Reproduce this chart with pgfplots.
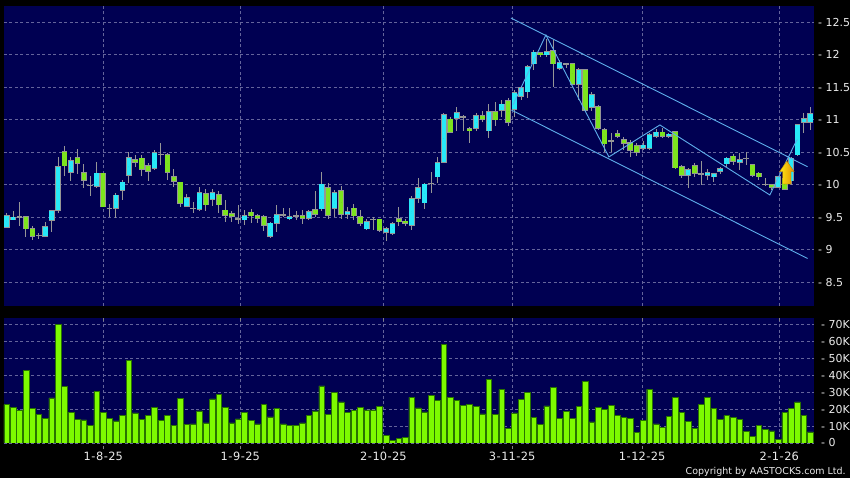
\documentclass[border=0pt]{standalone}
\usepackage{pgfplots}
\pgfplotsset{compat=1.18}
\usepackage{pgfplotstable}
\usepackage{fontspec}
\setmainfont{DejaVu Sans}

\definecolor{panel}{RGB}{0,0,82}
\definecolor{gridc}{RGB}{100,100,155}
\definecolor{upc}{RGB}{40,232,248}
\definecolor{dnc}{RGB}{125,228,30}
\definecolor{wick}{RGB}{150,150,150}
\definecolor{volf}{RGB}{125,250,0}
\definecolor{vold}{RGB}{40,115,0}
\definecolor{trend}{RGB}{95,175,235}
\definecolor{lab}{RGB}{235,235,235}
\definecolor{arrY}{RGB}{255,235,20}
\definecolor{arrO}{RGB}{225,140,0}

\newcommand{\dl}[3]{#1\kern.5pt-\kern.5pt#2\kern.5pt-\kern.5pt#3}

% daily candles, i = trading-day index
\pgfplotstableread{
i o h l c
0 9.34 9.57 9.33 9.53
1 9.46 9.59 9.45 9.50
2 9.51 9.74 9.36 9.51
3 9.51 9.51 9.19 9.32
4 9.32 9.36 9.15 9.20
5 9.22 9.25 9.16 9.22
6 9.21 9.43 9.20 9.35
7 9.45 9.61 9.28 9.60
8 9.60 10.43 9.56 10.28
9 10.51 10.59 10.14 10.29
10 10.19 10.43 10.06 10.37
11 10.42 10.55 10.17 10.33
12 10.19 10.32 9.95 10.07
13 9.99 10.13 9.83 9.99
14 9.98 10.35 9.95 10.18
15 10.18 10.18 9.65 9.66
16 9.64 9.71 9.51 9.64
17 9.64 9.87 9.49 9.84
18 9.91 10.07 9.77 10.04
19 10.15 10.51 10.03 10.42
20 10.39 10.46 10.28 10.34
21 10.41 10.46 10.14 10.24
22 10.30 10.33 10.05 10.20
23 10.25 10.53 10.23 10.49
24 10.47 10.65 10.30 10.47
25 10.46 10.49 10.08 10.19
26 10.13 10.24 9.97 10.05
27 10.04 10.05 9.65 9.71
28 9.67 9.86 9.65 9.80
29 9.64 9.74 9.56 9.64
30 9.62 9.96 9.60 9.88
31 9.86 9.93 9.60 9.69
32 9.78 9.93 9.67 9.88
33 9.85 9.91 9.56 9.69
34 9.61 9.77 9.43 9.53
35 9.56 9.60 9.43 9.51
36 9.48 9.69 9.40 9.48
37 9.46 9.61 9.38 9.52
38 9.58 9.62 9.41 9.52
39 9.52 9.55 9.41 9.48
40 9.51 9.53 9.29 9.38
41 9.21 9.43 9.18 9.41
42 9.41 9.69 9.28 9.54
43 9.54 9.64 9.51 9.54
44 9.48 9.64 9.46 9.51
45 9.52 9.59 9.46 9.52
46 9.53 9.61 9.40 9.48
47 9.48 9.61 9.46 9.59
48 9.62 9.91 9.51 9.55
49 9.63 10.19 9.60 10.01
50 9.95 10.02 9.48 9.53
51 9.64 9.92 9.51 9.88
52 9.91 9.98 9.48 9.55
53 9.54 9.66 9.47 9.59
54 9.64 9.71 9.46 9.52
55 9.51 9.61 9.36 9.40
56 9.32 9.48 9.30 9.43
57 9.47 9.51 9.31 9.47
58 9.47 9.48 9.28 9.30
59 9.27 9.35 9.14 9.32
60 9.25 9.42 9.23 9.40
61 9.48 9.65 9.37 9.43
62 9.44 9.48 9.37 9.41
63 9.38 9.82 9.30 9.79
64 9.79 10.10 9.72 9.95
65 9.72 10.03 9.62 10.01
66 10.02 10.20 9.87 10.02
67 10.12 10.43 10.02 10.34
68 10.34 11.10 10.33 11.08
69 11.01 11.05 10.79 10.81
70 11.02 11.19 10.83 11.11
71 11.05 11.07 10.83 11.05
72 10.86 10.89 10.65 10.83
73 10.87 11.10 10.82 11.06
74 11.06 11.13 10.97 11.01
75 10.83 11.25 10.72 11.12
76 11.12 11.28 10.90 11.00
77 11.14 11.31 11.05 11.24
78 11.30 11.33 10.91 10.96
79 11.16 11.46 11.05 11.42
80 11.36 11.52 11.31 11.49
81 11.43 11.84 11.33 11.82
82 11.86 12.07 11.77 12.04
83 12.03 12.05 11.97 12.00
84 12.00 12.25 11.97 12.05
85 12.06 12.23 11.51 11.86
86 11.79 11.92 11.77 11.88
87 11.86 11.88 11.80 11.85
88 11.86 11.87 11.54 11.55
89 11.54 11.79 11.31 11.77
90 11.77 11.78 11.13 11.15
91 11.19 11.42 11.13 11.39
92 11.20 11.23 10.84 10.87
93 10.85 10.87 10.51 10.63
94 10.68 10.79 10.50 10.68
95 10.79 10.84 10.72 10.75
96 10.69 10.74 10.54 10.64
97 10.65 10.69 10.43 10.53
98 10.60 10.65 10.45 10.50
99 10.56 10.67 10.54 10.61
100 10.56 10.80 10.54 10.77
101 10.74 10.86 10.72 10.81
102 10.81 10.87 10.72 10.75
103 10.74 10.80 10.72 10.78
104 10.82 10.82 10.24 10.26
105 10.28 10.30 10.10 10.14
106 10.15 10.26 9.95 10.23
107 10.29 10.33 10.12 10.18
108 10.17 10.36 10.00 10.17
109 10.14 10.24 10.08 10.19
110 10.12 10.18 10.04 10.17
111 10.20 10.27 10.16 10.25
112 10.32 10.43 10.28 10.41
113 10.44 10.47 10.30 10.36
114 10.34 10.49 10.23 10.39
115 10.41 10.51 10.31 10.41
116 10.31 10.31 10.12 10.15
117 10.18 10.20 10.07 10.12
118 10.01 10.10 9.98 10.01
119 10.00 10.01 9.92 9.96
120 9.96 10.14 9.95 10.12
121 10.09 10.10 9.92 9.93
122 10.06 10.43 9.99 10.41
123 10.46 10.93 10.44 10.92
124 10.96 11.10 10.80 11.02
125 10.96 11.20 10.85 11.10
}\candles

% volume in thousands
\pgfplotstableread{
i v
0 22.6
1 20.8
2 19.3
3 42.9
4 20.3
5 16.7
6 14.4
7 26.7
8 70.0
9 33.6
10 17.9
11 14.0
12 13.6
13 10.4
14 30.3
15 18.1
16 14.7
17 13.0
18 16.1
19 48.8
20 17.7
21 14.0
22 16.3
23 21.2
24 13.4
25 16.3
26 10.2
27 26.2
28 10.8
29 11.2
30 18.9
31 11.8
32 26.0
33 28.5
34 21.2
35 11.8
36 14.2
37 17.9
38 13.4
39 11.2
40 22.6
41 15.4
42 20.6
43 11.2
44 10.4
45 10.4
46 11.8
47 16.3
48 18.9
49 33.7
50 17.0
51 29.9
52 24.2
53 18.0
54 19.1
55 21.0
56 19.6
57 19.6
58 21.7
59 4.5
60 1.4
61 2.6
62 3.1
63 26.9
64 20.7
65 18.4
66 28.1
67 25.1
68 58.3
69 26.8
70 25.1
71 22.1
72 22.7
73 21.7
74 17.1
75 37.5
76 17.0
77 31.5
78 8.8
79 17.7
80 25.6
81 30.1
82 15.0
83 10.8
84 21.9
85 33.0
86 14.3
87 18.5
88 14.6
89 21.8
90 36.4
91 12.4
92 21.1
93 19.7
94 22.4
95 16.4
96 14.9
97 14.5
98 6.3
99 13.2
100 31.7
101 11.2
102 9.2
103 15.5
104 26.9
105 17.9
106 12.6
107 8.7
108 22.6
109 27.1
110 20.3
111 13.8
112 16.1
113 15.1
114 14.0
115 6.7
116 3.7
117 10.2
118 7.9
119 7.1
120 2.2
121 17.9
122 20.6
123 24.2
124 16.5
125 6.5
}\vol

\pgfplotsset{
  panelaxis/.style={
    scale only axis, width=810pt, anchor=south west,
    xmin=-0.42, xmax=125.55,
    axis background/.style={fill=panel},
    axis line style={draw=none},
    xtick={15.02,36.33,58.6,78.62,98.85,120.16},
    grid=major,
    major grid style={gridc, dash pattern=on 3pt off 2.5pt, line width=0.7pt},
    ytick pos=right, yticklabel pos=right,
    ytick style={draw=none},
    yticklabel style={anchor=west, inner sep=0pt, xshift=4pt, text=lab,
      font=\fontsize{11}{13}\selectfont},
    clip=true,
  },
  candle/.style={only marks, mark=none, mark size=0pt,
    mark options={draw=none, fill=none}, forget plot,
    error bars/.cd, y dir=both, y explicit, error mark=none},
}

\begin{document}
\begin{tikzpicture}[x=1pt,y=1pt]
\fill[black] (0,0) rectangle (850,478);

\begin{axis}[panelaxis, at={(4pt,172pt)}, height=300pt,
  ymin=8.135, ymax=12.751,
  ytick={8.5,9,...,12.5},
  yticklabels={{- 8.5},{- 9},{- 9.5},{- 10},{- 10.5},{- 11},{- 11.5},{- 12},{- 12.5}},
  xticklabels={}, xtick style={draw=none}]

  % wicks
  \addplot[candle, error bar style={wick, line width=1pt}]
    table[x=i, y expr={(\thisrow{h}+\thisrow{l})/2},
      y error expr={(\thisrow{h}-\thisrow{l})/2}] {\candles};
  % body outline (also the doji bars)
  \addplot[candle, error bar style={wick, line width=5.8pt}]
    table[x=i, y expr={(\thisrow{o}+\thisrow{c})/2},
      y error expr={abs(\thisrow{c}-\thisrow{o})/2+0.008}] {\candles};
  % rising days (others are sent below the axis and clipped)
  \addplot[candle, error bar style={upc, line width=4.6pt}]
    table[x=i, y expr={(\thisrow{c}-\thisrow{o}>0.012) ? (\thisrow{o}+\thisrow{c})/2 : 2},
      y error expr={abs(\thisrow{c}-\thisrow{o})/2-0.004}] {\candles};
  % falling days
  \addplot[candle, error bar style={dnc, line width=4.6pt}]
    table[x=i, y expr={(\thisrow{o}-\thisrow{c}>0.012) ? (\thisrow{o}+\thisrow{c})/2 : 2},
      y error expr={abs(\thisrow{c}-\thisrow{o})/2-0.004}] {\candles};

  % channel and swing lines
  \addplot[trend, line width=0.9pt, no marks] coordinates {(78.43,12.566) (124.57,10.278)};
  \addplot[trend, line width=0.9pt, no marks] coordinates {(78.5,11.15) (124.57,8.865)};
  \addplot[trend, line width=0.9pt, no marks] coordinates {
    (78.74,11.228) (83.87,12.305) (93.67,10.428) (101.6,10.92) (118.7,9.843) (122.9,10.69)};

  \shade[left color=arrY, right color=arrO, draw=arrO!80!black, line width=0.3pt]
    (axis cs:120.70,10.01) -- (axis cs:120.70,10.20) -- (axis cs:120.2,10.20)
    -- (axis cs:121.35,10.365) -- (axis cs:122.5,10.20) -- (axis cs:122.0,10.20)
    -- (axis cs:122.0,10.01) -- cycle;
\end{axis}

\begin{axis}[panelaxis, at={(4pt,35pt)}, height=125pt,
  ymin=0, ymax=73.9,
  ytick={0,10,...,70},
  yticklabels={{- 0},{- 10K},{- 20K},{- 30K},{- 40K},{- 50K},{- 60K},{- 70K}},
  xticklabels={\dl{1}{8}{25},\dl{1}{9}{25},\dl{2}{10}{25},\dl{3}{11}{25},\dl{1}{12}{25},\dl{2}{1}{26}},
  xtick style={draw=gray, line width=0.8pt, yshift=-3.5pt},
  tick align=outside, major tick length=3pt,
  xticklabel style={anchor=north, inner sep=0pt, yshift=-6pt, text=lab,
    font=\fontsize{11.4}{13}\selectfont}]
  \addplot[ybar, bar width=5.7pt, fill=volf, draw=vold, line width=0.5pt]
    table[x=i, y=v] {\vol};
\end{axis}

\node[anchor=base east, inner sep=0pt, text=lab, font=\fontsize{9.5}{11}\selectfont]
  at (846pt,3.5pt) {Copyright by AASTOCKS.com Ltd.};
\end{tikzpicture}
\end{document}
